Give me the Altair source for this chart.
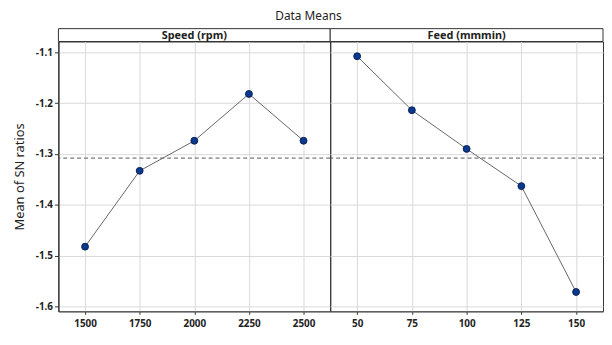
import altair as alt
import pandas as pd

# ---- data ----
speed_levels = [1500, 1750, 2000, 2250, 2500]
speed_means = [-1.482, -1.333, -1.274, -1.182, -1.274]
feed_levels = [50, 75, 100, 125, 150]
feed_means = [-1.108, -1.214, -1.290, -1.363, -1.571]
overall_mean = [-1.308]
y_ticks = [-1.1, -1.2, -1.3, -1.4, -1.5, -1.6]
panel_titles = ["Speed (rpm)", "Feed (mmmin)"]

FONT = "Noto Sans"
PH = 273
y_domain = [-1.609, -1.079]

df_speed = pd.DataFrame({"level": speed_levels, "mean": speed_means})
df_feed = pd.DataFrame({"level": feed_levels, "mean": feed_means})
df_mean = pd.DataFrame({"mean": overall_mean})


def panel(df, levels, xdom, title, show_y, pw):
    if show_y:
        yaxis = alt.Axis(values=y_ticks, title="Mean of SN ratios",
                         labelExpr="'-' + format(abs(datum.value), '.1f')",
                         labelFontWeight="bold", labelFontSize=10, labelFont=FONT,
                         labelColor="#222", titleFont=FONT, titleFontSize=13,
                         titleFontWeight="normal", titleColor="#222", titlePadding=9,
                         tickSize=4, tickColor="#333", domainColor="#222",
                         gridColor="#d9d9d9", labelPadding=2)
    else:
        yaxis = alt.Axis(values=y_ticks, labels=False, ticks=False, domain=False,
                         title=None, gridColor="#d9d9d9")
    x = alt.X("level:Q",
              scale=alt.Scale(domain=xdom, nice=False, zero=False),
              axis=alt.Axis(values=levels, format="d", title=None,
                            labelFontWeight="bold", labelFontSize=10, labelFont=FONT,
                            labelColor="#222", tickSize=3, tickColor="#333",
                            domainColor="#555", gridColor="#d9d9d9", labelPadding=4))
    y = alt.Y("mean:Q", scale=alt.Scale(domain=y_domain, nice=False, zero=False),
              axis=yaxis)
    base = alt.Chart(df)
    line = base.mark_line(color="#666666", strokeWidth=1).encode(x=x, y=y)
    pts = base.mark_point(filled=True, size=48, fill="#0a3990", stroke="#0a1f55",
                          strokeWidth=1, opacity=1).encode(x=x, y=y)
    rule = alt.Chart(df_mean).mark_rule(color="#555555", strokeDash=[4, 3],
                                        strokeWidth=1).encode(y=alt.Y("mean:Q"))
    hdf = pd.DataFrame({"t": [title]})
    head_rect = alt.Chart(hdf).mark_rect(fill="white", stroke="#333333",
                                         strokeWidth=1).encode(
        x=alt.value(0), x2=alt.value(pw), y=alt.value(-13), y2=alt.value(0))
    head_text = alt.Chart(hdf).mark_text(font=FONT, fontSize=11, fontWeight="bold",
                                         color="#222", baseline="middle").encode(
        x=alt.value(pw / 2), y=alt.value(-6), text="t:N")
    return alt.layer(rule, line, pts, head_rect, head_text).properties(
        width=pw, height=PH)


left = panel(df_speed, speed_levels, [1378, 2622], panel_titles[0], True, 275)
right = panel(df_feed, feed_levels, [37.7, 162.3], panel_titles[1], False, 276)

chart = alt.hconcat(left, right, spacing=0, bounds="flush").properties(
    title=alt.TitleParams("Data Means", font=FONT, fontSize=12, fontWeight="normal",
                          color="#222", anchor="middle", offset=5),
    padding={"left": 5, "top": 0, "right": 0, "bottom": 0},
).configure_view(stroke="#333333", strokeWidth=1).resolve_scale(y="shared")

chart.save("out.html", embed_options={"renderer": "svg", "actions": False})
